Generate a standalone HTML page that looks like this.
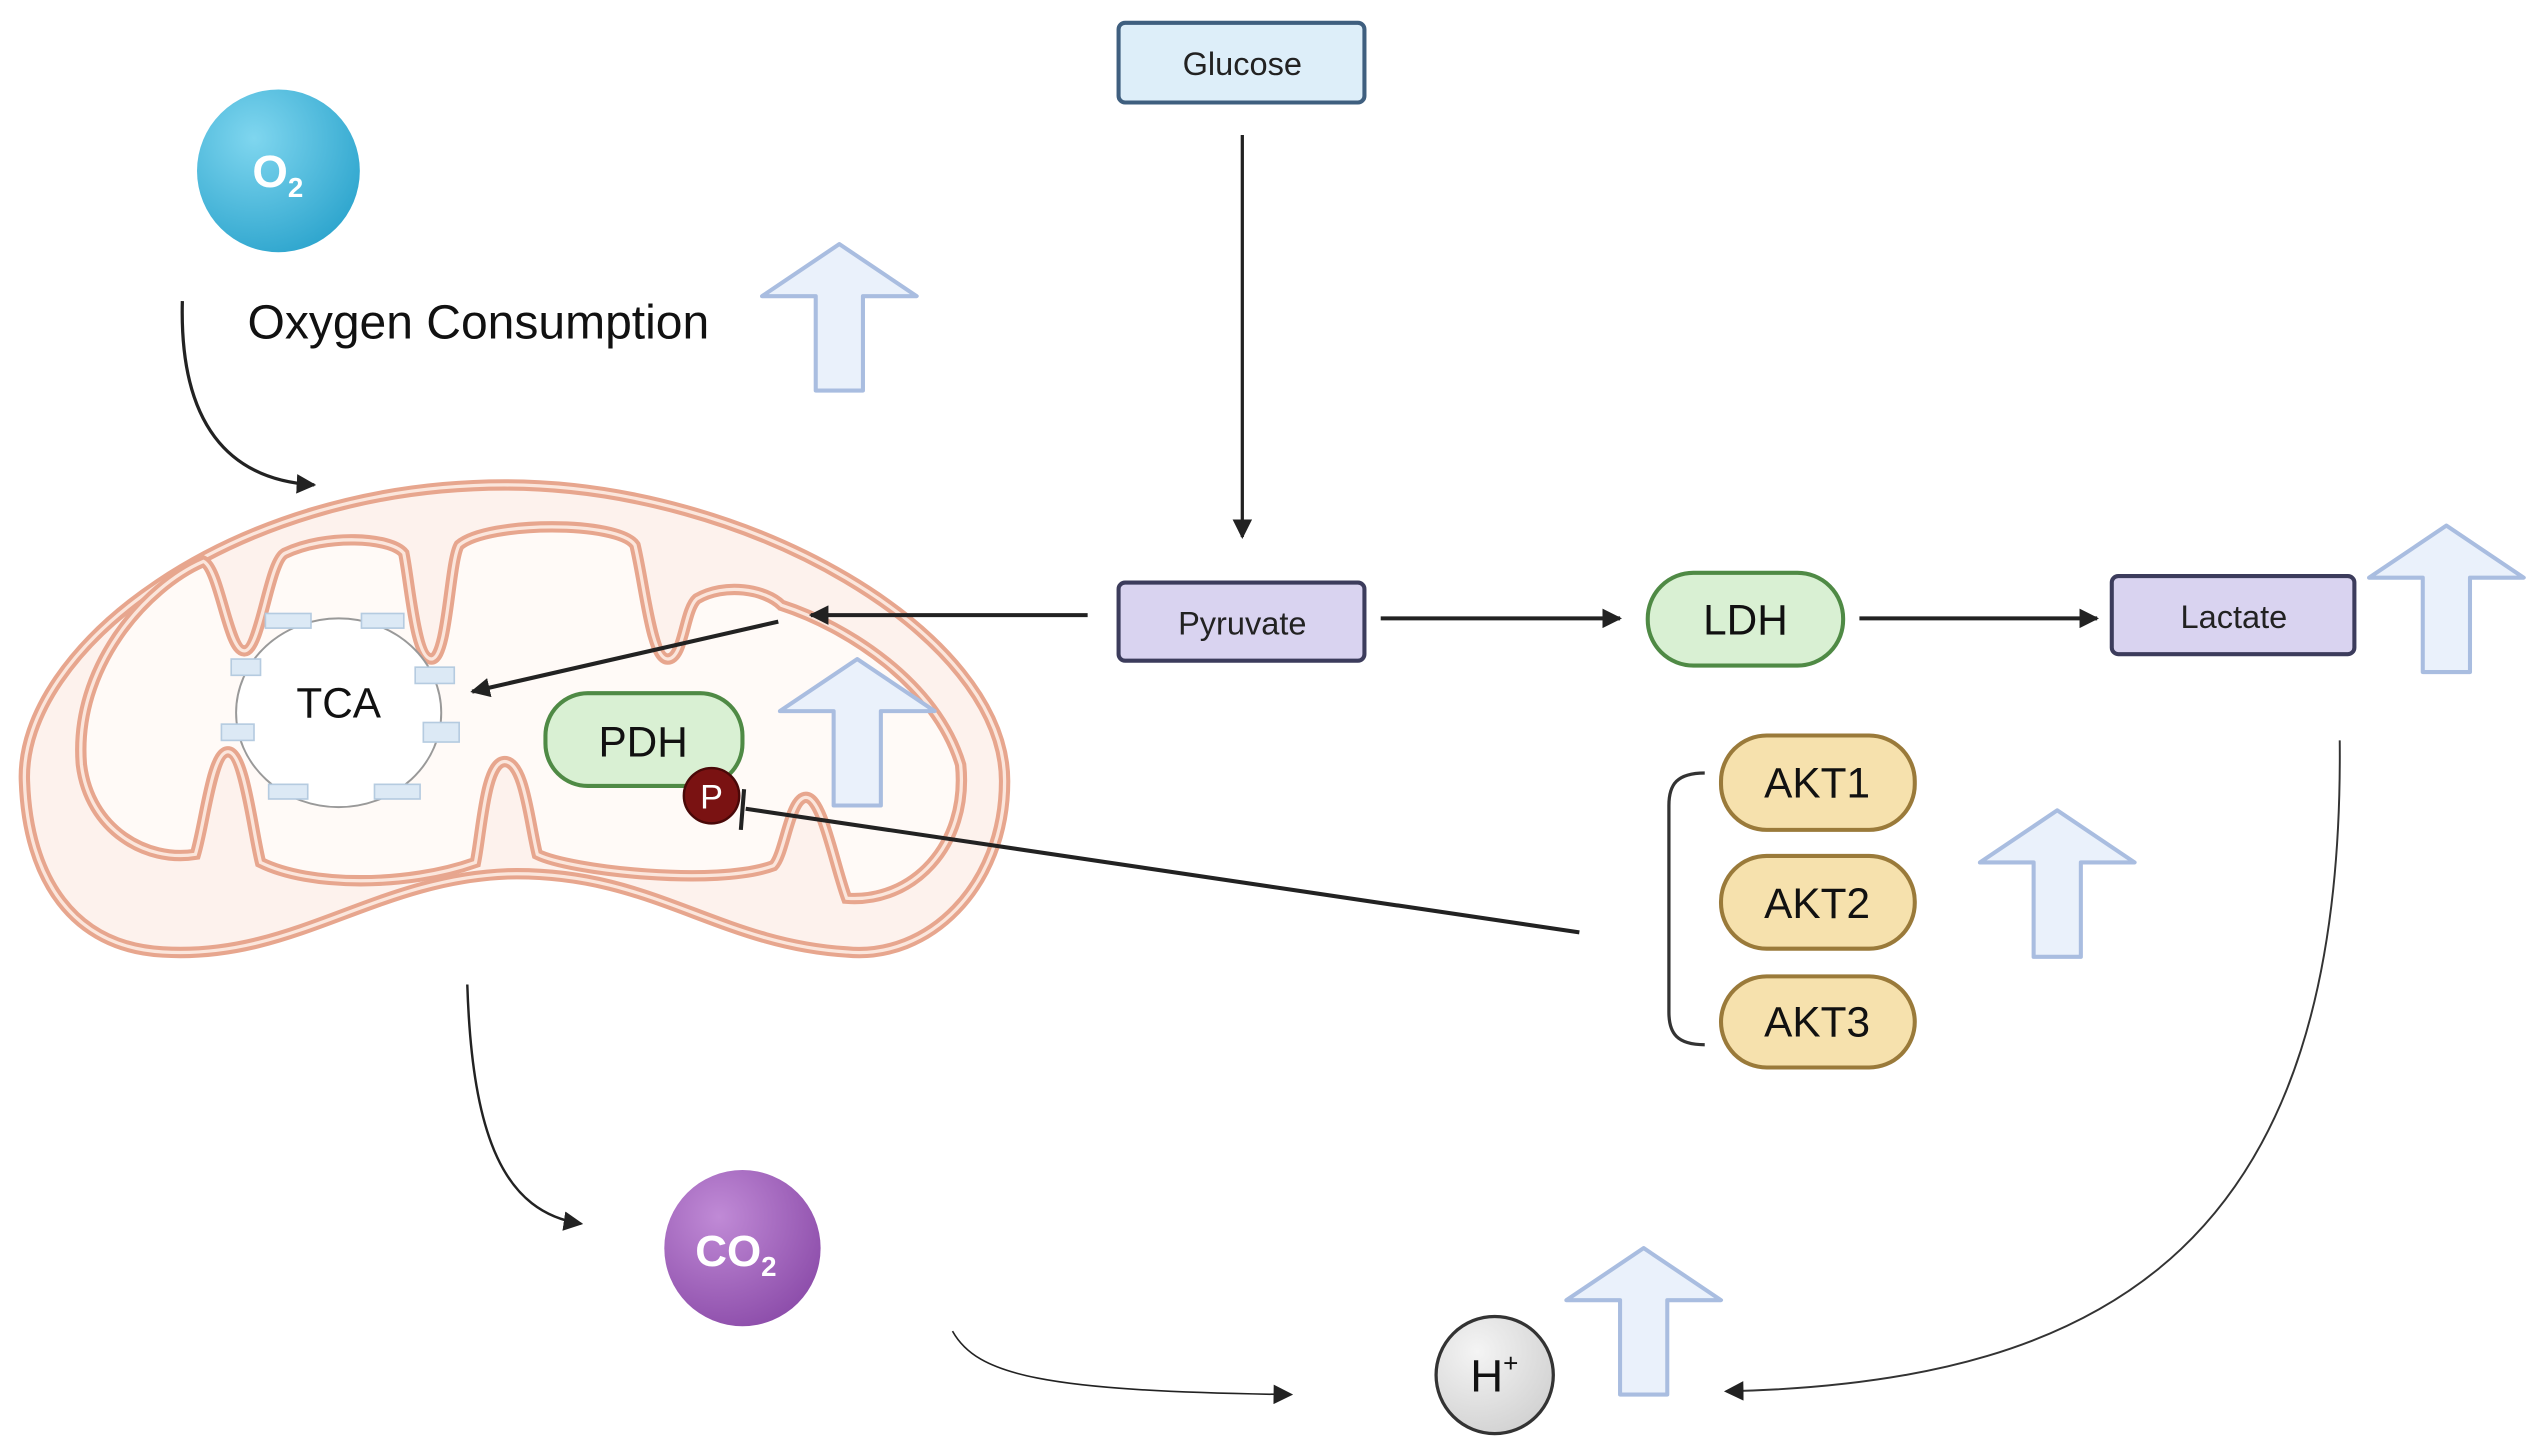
<!DOCTYPE html>
<html><head><meta charset="utf-8"><style>html,body{margin:0;padding:0;background:#fff}svg{display:block}</style></head>
<body>
<svg width="2540" height="1445" viewBox="0 0 1560 888" preserveAspectRatio="none" xmlns="http://www.w3.org/2000/svg" font-family="Liberation Sans, sans-serif">
<defs>
<marker id="ah" viewBox="0 0 10 10" refX="9" refY="5" markerWidth="12" markerHeight="12" markerUnits="userSpaceOnUse" orient="auto"><path d="M0,0 L10,5 L0,10 Z" fill="#222"/></marker>
<radialGradient id="g1" cx="0.35" cy="0.3" r="0.8"><stop offset="0" stop-color="#7fd6ef"/><stop offset="1" stop-color="#2aa3cc"/></radialGradient>
<radialGradient id="g2" cx="0.35" cy="0.3" r="0.8"><stop offset="0" stop-color="#c08ad6"/><stop offset="1" stop-color="#8a4aa8"/></radialGradient>
<radialGradient id="g3" cx="0.35" cy="0.3" r="0.8"><stop offset="0" stop-color="#f4f4f4"/><stop offset="1" stop-color="#d0d0d0"/></radialGradient>
<path id="bigup" d="M47.5,0 L95,32 L62,32 L62,90 L33,90 L33,32 L0,32 Z" fill="#eaf1fb" stroke="#a9bde0" stroke-width="2.5" stroke-linejoin="round"/>
</defs>

<path d="M15,480 C12,400 140,298 310,298 C460,298 617,390 617,480 C617,545 570,590 520,585 C440,580 400,535 312,537 C230,540 180,590 100,585 C45,582 17,540 15,480 Z" fill="#fdf2ed" stroke="#e7a68e" stroke-width="7"/>
<path d="M15,480 C12,400 140,298 310,298 C460,298 617,390 617,480 C617,545 570,590 520,585 C440,580 400,535 312,537 C230,540 180,590 100,585 C45,582 17,540 15,480 Z" fill="none" stroke="#fbe6dc" stroke-width="2"/>
<g id="inner">
<path d="M50,470 C45,410 90,360 125,345 C135,350 140,400 150,400 C160,400 165,345 175,340 C200,328 240,330 248,340 C252,360 255,405 265,405 C275,405 276,345 282,335 C300,320 380,320 390,335 C396,360 400,405 410,405 C420,405 420,375 428,368 C445,358 470,362 480,372 C520,385 575,420 590,470 C595,520 560,555 520,552 C512,530 505,490 495,490 C485,490 482,525 475,532 C440,545 350,535 330,525 C325,505 322,468 310,468 C298,468 296,510 292,530 C250,545 190,545 160,530 C155,510 150,462 140,462 C130,462 126,505 120,525 C90,530 55,510 50,470 Z" fill="#fffaf7" stroke="#e7a68e" stroke-width="7"/>
<path d="M50,470 C45,410 90,360 125,345 C135,350 140,400 150,400 C160,400 165,345 175,340 C200,328 240,330 248,340 C252,360 255,405 265,405 C275,405 276,345 282,335 C300,320 380,320 390,335 C396,360 400,405 410,405 C420,405 420,375 428,368 C445,358 470,362 480,372 C520,385 575,420 590,470 C595,520 560,555 520,552 C512,530 505,490 495,490 C485,490 482,525 475,532 C440,545 350,535 330,525 C325,505 322,468 310,468 C298,468 296,510 292,530 C250,545 190,545 160,530 C155,510 150,462 140,462 C130,462 126,505 120,525 C90,530 55,510 50,470 Z" fill="none" stroke="#fbe6dc" stroke-width="2"/>
</g>

<ellipse cx="208" cy="438" rx="63" ry="58" fill="#fff" stroke="#999" stroke-width="1.2"/>
<g fill="#dce9f5" stroke="#b5cbe0" stroke-width="1">
<rect x="163" y="377" width="28" height="9"/><rect x="222" y="377" width="26" height="9"/>
<rect x="142" y="405" width="18" height="10"/><rect x="255" y="410" width="24" height="10"/>
<rect x="136" y="445" width="20" height="10"/><rect x="260" y="444" width="22" height="12"/>
<rect x="165" y="482" width="24" height="9"/><rect x="230" y="482" width="28" height="9"/>
</g>
<text x="208" y="441" font-size="26" text-anchor="middle" fill="#111">TCA</text>

<rect x="335" y="426" width="121" height="57" rx="26" fill="#d9f0d3" stroke="#4f8a45" stroke-width="2.5"/>
<text x="395" y="465" font-size="26" text-anchor="middle" fill="#111">PDH</text>
<circle cx="437" cy="489" r="17" fill="#7a1212" stroke="#4a0808" stroke-width="1.5"/>
<text x="437" y="497" font-size="21" text-anchor="middle" fill="#fff">P</text>

<use href="#bigup" x="468" y="150"/>
<use href="#bigup" x="1455" y="323"/>
<use href="#bigup" x="479" y="405"/>
<use href="#bigup" x="1216" y="498"/>
<use href="#bigup" x="962" y="767"/>

<circle cx="171" cy="105" r="50" fill="url(#g1)"/>
<text x="155" y="115" font-size="28" font-weight="bold" fill="#fff">O<tspan font-size="17" dy="6">2</tspan></text>
<text x="152" y="208" font-size="29.5" fill="#111">Oxygen Consumption</text>
<path d="M112,185 C110,260 140,295 193,298" fill="none" stroke="#222" stroke-width="2" marker-end="url(#ah)"/>

<circle cx="456" cy="767" r="48" fill="url(#g2)"/>
<text x="427" y="778" font-size="27" font-weight="bold" fill="#fff">CO<tspan font-size="17" dy="6">2</tspan></text>
<path d="M287,605 C290,700 310,745 357,752" fill="none" stroke="#222" stroke-width="1.5" marker-end="url(#ah)"/>
<path d="M585,818 C600,845 640,855 793,857" fill="none" stroke="#222" stroke-width="1" marker-end="url(#ah)"/>

<circle cx="918" cy="845" r="36" fill="url(#g3)" stroke="#333" stroke-width="2"/>
<text x="903" y="855" font-size="28" fill="#111">H<tspan font-size="16" dy="-12">+</tspan></text>

<path d="M1437,455 C1440,760 1300,850 1060,855" fill="none" stroke="#333" stroke-width="1.2" marker-end="url(#ah)"/>

<rect x="687" y="14" width="151" height="49" rx="4" fill="#ddeef9" stroke="#3f5f7f" stroke-width="2.5"/>
<text x="763" y="46" font-size="20" text-anchor="middle" fill="#222">Glucose</text>
<line x1="763" y1="83" x2="763" y2="330" stroke="#222" stroke-width="2" marker-end="url(#ah)"/>

<rect x="687" y="358" width="151" height="48" rx="4" fill="#d9d3f0" stroke="#3c3c5c" stroke-width="2.5"/>
<text x="763" y="390" font-size="20" text-anchor="middle" fill="#222">Pyruvate</text>
<line x1="848" y1="380" x2="995" y2="380" stroke="#222" stroke-width="2.5" marker-end="url(#ah)"/>

<rect x="1012" y="352" width="120" height="57" rx="28" fill="#d9f0d3" stroke="#4f8a45" stroke-width="2.5"/>
<text x="1072" y="390" font-size="26" text-anchor="middle" fill="#111">LDH</text>
<line x1="1142" y1="380" x2="1288" y2="380" stroke="#222" stroke-width="2.5" marker-end="url(#ah)"/>

<rect x="1297" y="354" width="149" height="48" rx="4" fill="#d9d3f0" stroke="#3c3c5c" stroke-width="2.5"/>
<text x="1372" y="386" font-size="20" text-anchor="middle" fill="#222">Lactate</text>

<line x1="668" y1="378" x2="498" y2="378" stroke="#222" stroke-width="2.5" marker-end="url(#ah)"/>
<line x1="478" y1="382" x2="290" y2="425" stroke="#222" stroke-width="2.5" marker-end="url(#ah)"/>

<g stroke="#9a7a3a" stroke-width="2.5" fill="#f6e1ad">
<rect x="1057" y="452" width="119" height="58" rx="28"/>
<rect x="1057" y="526" width="119" height="57" rx="28"/>
<rect x="1057" y="600" width="119" height="56" rx="28"/>
</g>
<g font-size="26" text-anchor="middle" fill="#111">
<text x="1116" y="490">AKT1</text><text x="1116" y="564">AKT2</text><text x="1116" y="637">AKT3</text>
</g>
<path d="M1047,475 C1030,475 1025,482 1025,495 L1025,622 C1025,635 1030,642 1047,642" fill="none" stroke="#333" stroke-width="2"/>
<line x1="970" y1="573" x2="458" y2="497" stroke="#222" stroke-width="2.5"/>
<line x1="457" y1="485" x2="455" y2="510" stroke="#222" stroke-width="2.5"/>
</svg>
</body></html>
